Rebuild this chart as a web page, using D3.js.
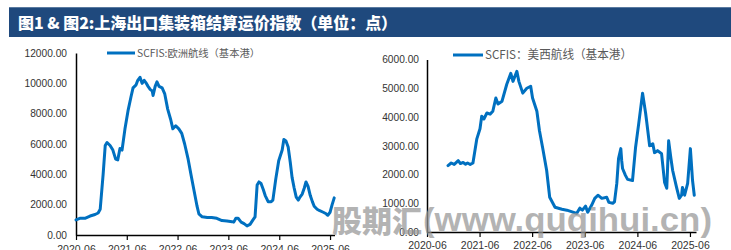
<!DOCTYPE html>
<html><head><meta charset="utf-8">
<script src="https://cdn.jsdelivr.net/npm/d3@7/dist/d3.min.js"></script>
<style>
html,body{margin:0;padding:0;background:#fff;}
svg{display:block;}
</style></head>
<body>
<svg id="c" width="731" height="250"></svg>
<script>
const titleText = "图1 & 图2:上海出口集装箱结算运价指数（单位：点）";
const watermarkCn = "股期汇";
const watermarkEn = "(www.quqihui.cn)";

// Chart 1: SCFIS Europe
const euLabel = "SCFIS:欧洲航线（基本港）";
const euDates = ["2020-06-01","2020-06-28","2020-08-04","2020-09-10","2020-10-16","2020-11-07","2020-11-22","2020-12-13","2020-12-28","2021-01-10","2021-02-01","2021-02-21","2021-03-13","2021-03-28","2021-04-13","2021-04-28","2021-05-19","2021-06-10","2021-07-01","2021-07-16","2021-08-07","2021-08-19","2021-09-04","2021-09-19","2021-10-04","2021-10-16","2021-11-01","2021-11-16","2021-12-01","2021-12-07","2021-12-22","2022-01-04","2022-01-19","2022-02-10","2022-03-01","2022-03-22","2022-04-13","2022-04-28","2022-05-19","2022-06-10","2022-07-01","2022-07-22","2022-08-16","2022-09-07","2022-09-28","2022-10-19","2022-11-01","2022-11-25","2023-01-01","2023-02-01","2023-03-10","2023-04-16","2023-05-22","2023-06-28","2023-07-10","2023-07-25","2023-08-10","2023-09-01","2023-09-22","2023-10-13","2023-11-04","2023-11-25","2023-12-10","2023-12-25","2024-01-07","2024-01-22","2024-02-07","2024-02-21","2024-03-13","2024-04-04","2024-04-16","2024-05-07","2024-05-28","2024-06-22","2024-07-04","2024-07-19","2024-08-04","2024-08-19","2024-09-01","2024-09-16","2024-10-01","2024-10-16","2024-10-28","2024-11-13","2024-11-28","2024-12-10","2024-12-25","2025-01-10","2025-01-25","2025-02-07","2025-02-28","2025-03-19","2025-04-13","2025-05-04","2025-05-16","2025-06-01","2025-06-16","2025-07-01"];
const euValues = [1000,1100,1100,1250,1350,1450,1700,4000,5900,6100,5900,5600,5000,4950,5700,5600,7000,8200,9100,9700,9900,10200,10400,10000,10200,10050,9800,9600,9500,9200,9800,10100,9800,9700,9300,8300,7600,7000,7200,7000,6700,6000,5000,3900,2900,1900,1400,1200,1150,1150,1100,950,930,880,850,1100,1100,850,750,600,700,1000,1200,3300,3500,3400,3000,2600,2200,2200,2300,3700,4900,5600,6300,6200,5800,4800,3800,3100,2500,2300,2500,2700,3100,3500,3200,2600,2200,1900,1700,1600,1500,1400,1300,1500,2000,2450];
const euTicksY = [0,2000,4000,6000,8000,10000,12000];

// Chart 2: SCFIS US West
const usLabel = "SCFIS：美西航线（基本港）";
const usDates = ["2020-10-25","2020-11-16","2020-12-07","2021-01-04","2021-01-19","2021-02-07","2021-02-24","2021-03-10","2021-03-28","2021-04-16","2021-05-13","2021-06-04","2021-06-16","2021-07-01","2021-07-22","2021-08-13","2021-09-01","2021-09-22","2021-10-07","2021-11-04","2021-12-07","2022-01-04","2022-01-19","2022-02-15","2022-03-01","2022-03-28","2022-04-25","2022-05-22","2022-06-04","2022-07-04","2022-07-22","2022-08-13","2022-09-10","2022-10-01","2022-11-07","2022-12-25","2023-01-28","2023-04-07","2023-04-28","2023-05-16","2023-06-07","2023-06-22","2023-07-19","2023-08-10","2023-09-01","2023-09-28","2023-11-01","2023-11-16","2023-12-13","2023-12-25","2024-01-10","2024-01-22","2024-02-07","2024-02-13","2024-02-19","2024-03-10","2024-03-25","2024-04-28","2024-05-19","2024-06-10","2024-07-07","2024-07-28","2024-08-04","2024-08-25","2024-09-16","2024-09-28","2024-10-19","2024-11-16","2024-12-07","2024-12-22","2025-01-04","2025-01-19","2025-02-01","2025-02-28","2025-03-19","2025-04-04","2025-04-10","2025-04-25","2025-05-16","2025-06-04","2025-06-19","2025-07-01"];
const usValues = [2310,2400,2350,2480,2380,2420,2360,2400,2350,2400,3240,3590,4030,3930,4140,4100,4200,4660,4450,4550,5140,5520,5240,5590,5240,4830,5000,5070,4660,4200,3520,2930,2140,1210,860,790,760,650,830,760,900,690,930,1170,1280,1170,1210,1030,1000,1050,1690,2550,2900,2480,2210,1970,1830,1790,2930,3760,4830,4140,3860,3000,3070,2760,2830,2720,1720,1520,3170,2590,2140,1550,1170,1280,1550,1280,1690,2900,1790,1280];
const usTicksY = [0,1000,2000,3000,4000,5000,6000];

const xTickDates = ["2020-06-01","2021-06-01","2022-06-01","2023-06-01","2024-06-01","2025-06-01"];

const parse = d3.timeParse("%Y-%m-%d");
const svg = d3.select("#c");
const LINE_COLOR = "#0070c0";
const LABEL_FONT = "'Liberation Sans', Arial, sans-serif";
const CJK_FONT = "'Noto Sans CJK SC', sans-serif";

// Title bar
svg.append("rect").attr("x", 9).attr("y", 7).attr("width", 722).attr("height", 30).attr("fill", "#1f497d");
svg.append("line").attr("x1", 9).attr("x2", 731).attr("y1", 7.5).attr("y2", 7.5).attr("stroke", "#5a7aa0").attr("stroke-width", 1);
svg.append("text").attr("x", 18).attr("y", 28.5)
  .attr("font-family", CJK_FONT).attr("font-weight", 900).attr("font-size", 16)
  .attr("fill", "#fff").attr("textLength", 379).attr("lengthAdjust", "spacingAndGlyphs")
  .text(titleText);

function drawChart(cfg) {
  const x = d3.scaleTime().domain([parse("2020-06-01"), parse(cfg.xEnd)]).range([cfg.x0, cfg.x1]);
  const y = d3.scaleLinear().domain([0, cfg.yMax]).range([cfg.y0, cfg.y1]);
  const g = svg.append("g");

  // y axis
  const ya = g.append("g").attr("transform", `translate(${cfg.x0},0)`)
    .call(d3.axisLeft(y).tickValues(cfg.yTicks).tickSize(0).tickPadding(cfg.yPad).tickFormat(d3.format(".2f")));
  ya.select(".domain").attr("stroke", "#000").attr("stroke-width", 1.5);
  ya.selectAll("text").attr("font-family", LABEL_FONT).attr("font-size", cfg.yFont).attr("fill", "#333");

  // x axis
  const xa = g.append("g").attr("transform", `translate(0,${cfg.y0})`)
    .call(d3.axisBottom(x).tickValues(xTickDates.map(parse)).tickSizeInner(5).tickSizeOuter(0).tickPadding(cfg.xPad).tickFormat(d3.timeFormat("%Y-%m")));
  xa.select(".domain").attr("stroke", "#000").attr("stroke-width", 1.5);
  xa.selectAll(".tick line").attr("stroke", "#000").attr("stroke-width", 1.2);
  xa.selectAll("text").attr("font-family", LABEL_FONT).attr("font-size", 10.5).attr("fill", "#333");

  // line
  const data = cfg.dates.map((d, i) => ({ d: parse(d), v: cfg.values[i] }));
  g.append("path").datum(data)
    .attr("fill", "none").attr("stroke", LINE_COLOR).attr("stroke-width", 3)
    .attr("stroke-linejoin", "round").attr("stroke-linecap", "round")
    .attr("d", d3.line().x(p => x(p.d)).y(p => y(p.v)));

  // legend
  g.append("line").attr("x1", cfg.lx).attr("x2", cfg.lx + cfg.lw).attr("y1", cfg.ly).attr("y2", cfg.ly)
    .attr("stroke", LINE_COLOR).attr("stroke-width", 3);
  g.append("text").attr("x", cfg.lx + cfg.lw + 2).attr("y", cfg.ly).attr("dy", "0.35em")
    .attr("font-family", CJK_FONT).attr("font-size", cfg.lFont).attr("fill", "#595959")
    .attr("textLength", cfg.lTextLen).attr("lengthAdjust", "spacingAndGlyphs")
    .text(cfg.label);
}

drawChart({ dates: euDates, values: euValues, yTicks: euTicksY, yMax: 12000, label: euLabel,
  x0: 76, x1: 334.5, xEnd: "2025-07-03", y0: 235, y1: 53, yPad: 9, yFont: 10.2, xPad: 6,
  lx: 107, lw: 28, ly: 53, lFont: 10, lTextLen: 123 });
drawChart({ dates: usDates, values: usValues, yTicks: usTicksY, yMax: 6000, label: usLabel,
  x0: 427, x1: 696, xEnd: "2025-07-13", y0: 232, y1: 59.5, yPad: 8, yFont: 10.2, xPad: 5,
  lx: 453, lw: 30, ly: 55, lFont: 12, lTextLen: 147 });

// watermark
const wm = svg.append("g").attr("font-family", LABEL_FONT).attr("font-weight", "bold").attr("fill", "rgba(150,150,150,0.72)");
wm.append("text").attr("x", 332).attr("y", 232).attr("font-size", 30).attr("font-family", CJK_FONT).attr("font-weight", 900)
  .attr("textLength", 90).attr("lengthAdjust", "spacingAndGlyphs").text(watermarkCn);
wm.append("text").attr("x", 423).attr("y", 231).attr("font-size", 33)
  .attr("textLength", 289).attr("lengthAdjust", "spacingAndGlyphs").text(watermarkEn);
</script>
</body></html>
